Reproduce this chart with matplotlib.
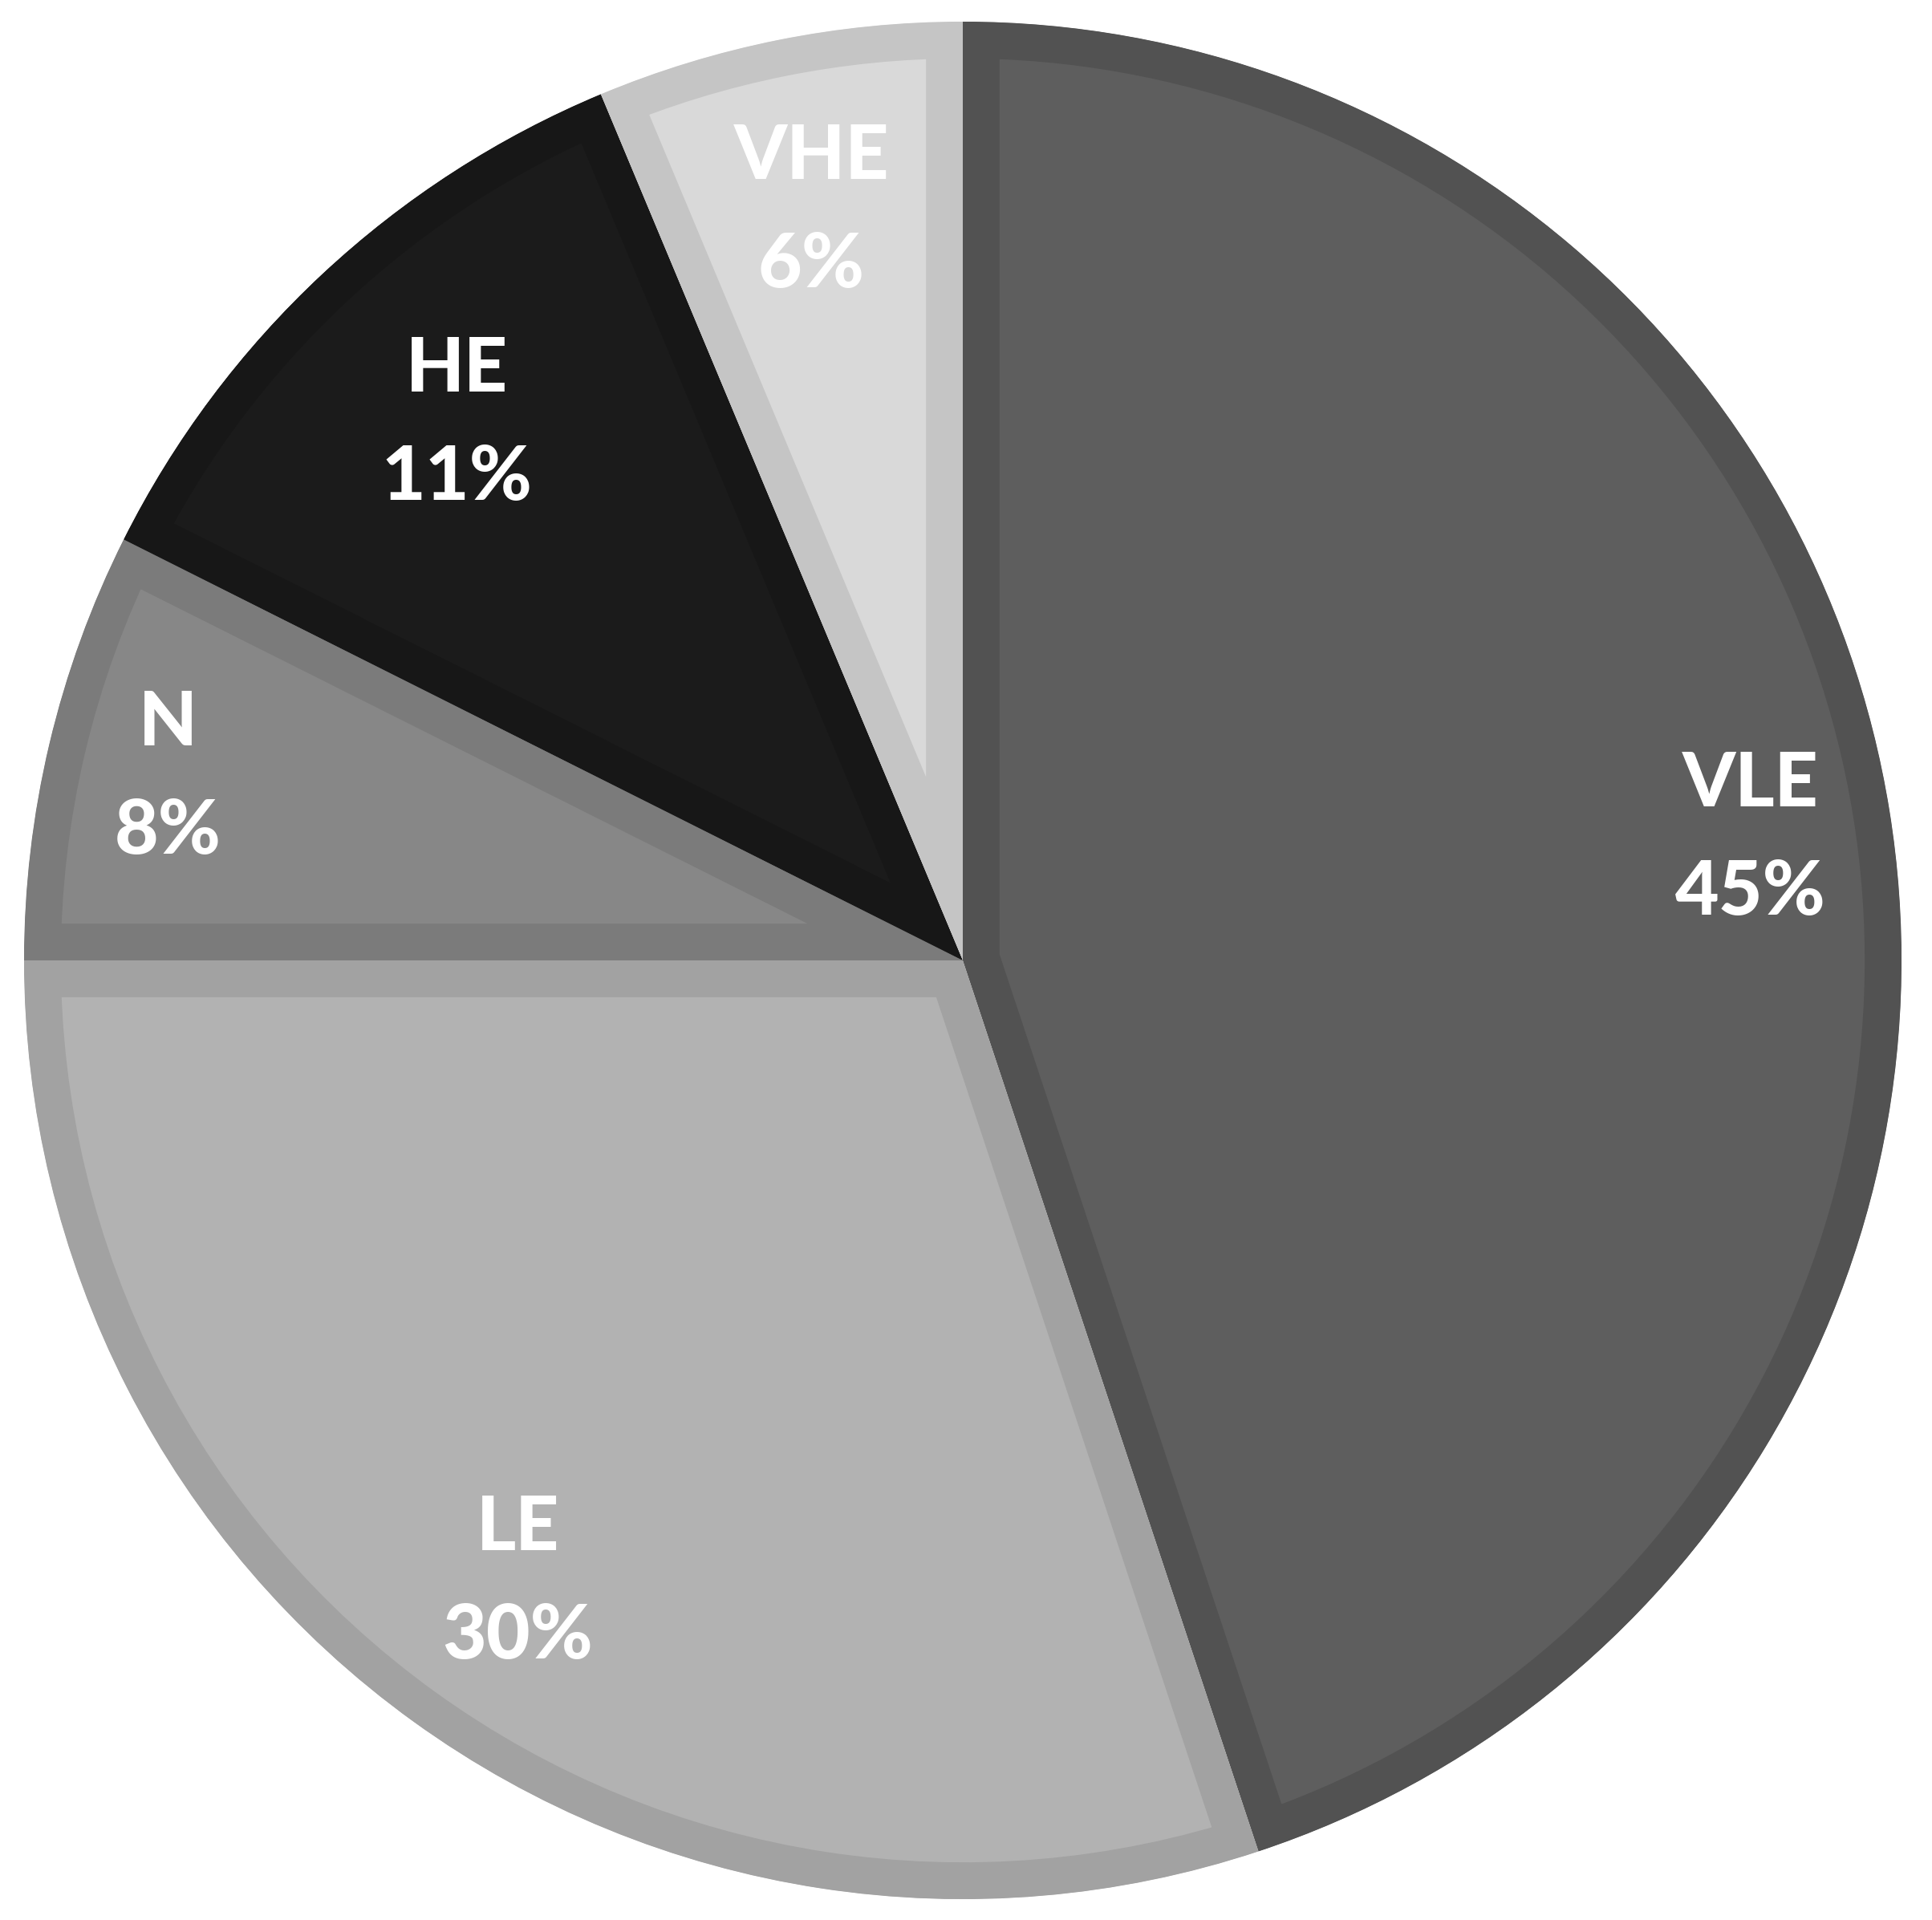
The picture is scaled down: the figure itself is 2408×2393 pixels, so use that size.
import numpy as np
import matplotlib.pyplot as plt

# slices clockwise from 12 o'clock
categories = ['VLE', 'LE', 'N', 'HE', 'VHE']
shares = [44.9, 30.1, 7.4, 11.3, 6.3]
pct_labels = ['45%', '30%', '8%', '11%', '6%']
fill_colors = ['#5e5e5e', '#b2b2b2', '#878787', '#1b1b1b', '#d9d9d9']
edge_colors = ['#525252', '#a2a2a2', '#7b7b7b', '#171717', '#c5c5c5']
label_dist = [0.85, 0.81, 0.87, 0.79, 0.82]

W, H = 2408, 2393
cx, cy, R = 1200, 1196, 1170

fig = plt.figure(figsize=(W / 100, H / 100), dpi=100)
ax = fig.add_axes([0, 0, 1, 1])

wedges, _ = ax.pie(shares, colors=fill_colors, startangle=90, counterclock=False,
                   radius=1.0, wedgeprops=dict(linewidth=0))

ax.set_xlim(-cx / R, (W - cx) / R)
ax.set_ylim(-cy / R, (H - cy) / R)
ax.set_aspect('equal')
ax.axis('off')

# inner border: double width stroke clipped to the wedge itself
for w, ec in zip(wedges, edge_colors):
    w.set_edgecolor(ec)
    w.set_linewidth(66)
    w.set_joinstyle('miter')
    w.set_clip_on(True)
    w.set_clip_path(w)

txt = dict(ha='center', va='baseline', color='white', fontsize=68,
           fontweight='black', family=['Lato', 'DejaVu Sans'],
           textcoords='offset points')
for w, name, pct, d in zip(wedges, categories, pct_labels, label_dist):
    mid = np.deg2rad((w.theta1 + w.theta2) / 2)
    pos = (d * np.cos(mid), d * np.sin(mid))
    ax.annotate(name, pos, xytext=(0, 24), **txt)
    ax.annotate(pct, pos, xytext=(0, -73), **txt)

fig.savefig('out.png', dpi=100, facecolor='white')
